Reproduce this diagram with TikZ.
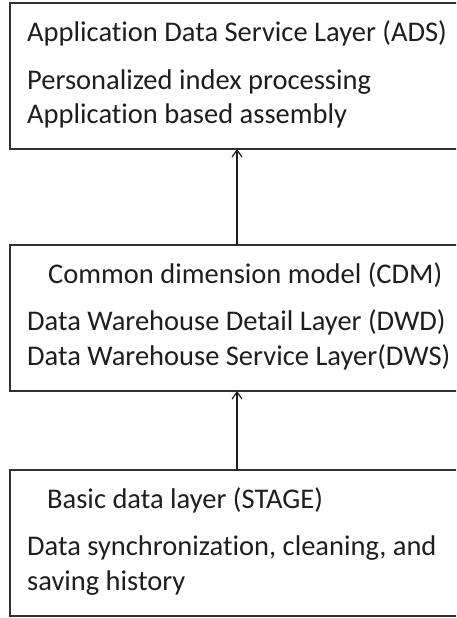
\documentclass[tikz,border=0pt]{standalone}
\usepackage{fontspec}
\setmainfont{Carlito}[RawFeature={-liga}]
\usetikzlibrary{arrows.meta}
\definecolor{ink}{HTML}{1E1E1E}
\definecolor{frame}{HTML}{303030}
\begin{document}
\begin{tikzpicture}[x=1pt,y=-1pt,
  layerbox/.style={draw=frame, line width=1.7pt, minimum width=454pt,
    minimum height=146pt, anchor=north west, inner sep=0pt, outer sep=0pt},
  txt/.style={anchor=base west, inner sep=0pt, text=ink,
    font=\fontsize{28.5}{34}\selectfont},
  flow/.style={draw=ink, line width=1.2pt,
    -{Straight Barb[length=7pt,width=10pt]}}]
\useasboundingbox (0,0) rectangle (456,618);
\clip (0,0) rectangle (456,618);

% the three layers, stacked top to bottom
\node[layerbox] (ads)   at (10,3)   {};
\node[layerbox] (cdm)   at (10,245) {};
\node[layerbox] (stage) at (10,470) {};

% application data service layer
\node[txt] (adsT)  at (27,42)  {Application Data Service Layer (ADS)};
\node[txt] (adsA)  at (27,89)  {Personalized index processing};
\node[txt] (adsB)  at (27,123) {Application based assembly};

% common dimension model
\node[txt] (cdmT)  at (48,283) {Common dimension model (CDM)};
\node[txt] (cdmA)  at (27,330) {Data Warehouse Detail Layer (DWD)};
\node[txt] (cdmB)  at (27,365) {Data Warehouse Service Layer(DWS)};

% basic data layer
\node[txt] (stgT)  at (47,508) {Basic data layer (STAGE)};
\node[txt] (stgA)  at (27,555) {Data synchronization, cleaning, and};
\node[txt] (stgB)  at (27,590) {saving history};

% data flows upward
\draw[flow] (cdm.north) -- (ads.south);
\draw[flow] (stage.north) -- (cdm.south);
\end{tikzpicture}
\end{document}
